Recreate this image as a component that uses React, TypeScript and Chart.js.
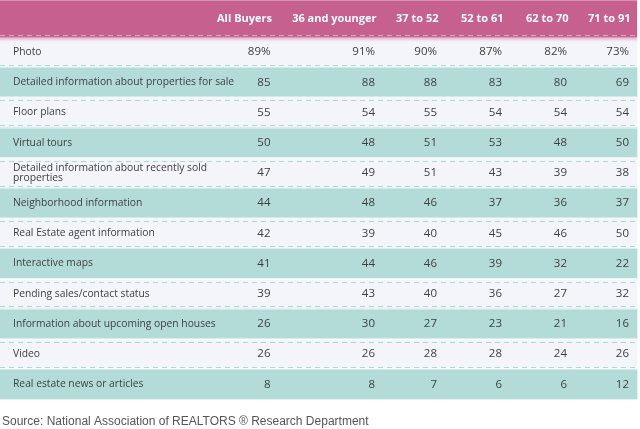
import React, { useEffect, useRef } from 'react';
import { Chart, registerables } from 'chart.js';

Chart.register(...registerables);

// ---- Data ----
const columnHeaders = ['All Buyers', '36 and younger', '37 to 52', '52 to 61', '62 to 70', '71 to 91'];
const rowLabels = [
  'Photo',
  'Detailed information about properties for sale',
  'Floor plans',
  'Virtual tours',
  'Detailed information about recently sold properties',
  'Neighborhood information',
  'Real Estate agent information',
  'Interactive maps',
  'Pending sales/contact status',
  'Information about upcoming open houses',
  'Video',
  'Real estate news or articles',
];
const allBuyers = [89, 85, 55, 50, 47, 44, 42, 41, 39, 26, 26, 8];
const age36AndYounger = [91, 88, 54, 48, 49, 48, 39, 44, 43, 30, 26, 8];
const age37to52 = [90, 88, 55, 51, 51, 46, 40, 46, 40, 27, 28, 7];
const age52to61 = [87, 83, 54, 53, 43, 37, 45, 39, 36, 23, 28, 6];
const age62to70 = [82, 80, 54, 48, 39, 36, 46, 32, 27, 21, 24, 6];
const age71to91 = [73, 69, 54, 50, 38, 37, 50, 22, 32, 16, 26, 12];
const percentRows = [0];
const sourceNote = 'Source: National Association of REALTORS \u00AE Research Department';

// ---- Layout / style (not data) ----
const W = 640;
const H = 429;
const TABLE_RIGHT = 637;
const HEADER_BOTTOM = 37;
const TABLE_BOTTOM = 399.5;
const COL_ANCHOR = [272, 376.5, 438.5, 503.5, 568.5, 630.5];
const LABEL_X = 13;
const LABEL_MAX_W = 232;
const PINK = '#c5608f';
const TEAL = '#b3dcd8';
const LAVENDER = '#f3f5fb';
const TEXT = '#404040';
const FONT = '"Open Sans", "DejaVu Sans", sans-serif';

const series = [allBuyers, age36AndYounger, age37to52, age52to61, age62to70, age71to91];

function wrapLabel(ctx: CanvasRenderingContext2D, text: string, maxW: number): string[] {
  const words = text.split(' ');
  const lines: string[] = [];
  let cur = '';
  for (const w of words) {
    const t = cur ? cur + ' ' + w : w;
    if (ctx.measureText(t).width > maxW && cur) {
      lines.push(cur);
      cur = w;
    } else cur = t;
  }
  if (cur) lines.push(cur);
  return lines;
}

const tablePlugin = {
  id: 'tablePlugin',
  beforeDraw(chart: any) {
    const ctx = chart.ctx as CanvasRenderingContext2D;
    ctx.save();
    ctx.fillStyle = '#ffffff';
    ctx.fillRect(0, 0, chart.width, chart.height);
    ctx.fillStyle = PINK;
    ctx.fillRect(0, 0, TABLE_RIGHT, HEADER_BOTTOM + 1);
    ctx.fillStyle = '#d994b4';
    ctx.fillRect(0, 0, TABLE_RIGHT, 1);
    ctx.restore();
  },
  afterDatasetsDraw(chart: any) {
    const ctx = chart.ctx as CanvasRenderingContext2D;
    const xs = chart.scales.x;
    const ys = chart.scales.y;
    const n = rowLabels.length;
    const rowH = (ys.bottom - ys.top) / n;
    ctx.save();

    for (let i = 0; i < n; i++) {
      const yc = ys.getPixelForValue(i);
      const top = yc - rowH / 2;
      const bottom = yc + rowH / 2;
      if (i > 0) {
        ctx.fillStyle = 'rgba(255,255,255,0.8)';
        ctx.fillRect(0, Math.round(top) - 0.5, TABLE_RIGHT, 1);
      }
      if (i % 2 === 0) {
        ctx.strokeStyle = '#acd9d4';
        ctx.lineWidth = 1;
        ctx.setLineDash([5, 4]);
        ctx.beginPath();
        if (i > 0) {
          const yt = Math.round(top + 3) + 0.5;
          ctx.moveTo(0, yt);
          ctx.lineTo(TABLE_RIGHT, yt);
        }
        const yb = Math.round(bottom - 2.5) + 0.5;
        ctx.moveTo(0, yb);
        ctx.lineTo(TABLE_RIGHT, yb);
        ctx.stroke();
        ctx.setLineDash([]);
      }
    }

    const g = ctx.createLinearGradient(0, HEADER_BOTTOM, 0, HEADER_BOTTOM + 6);
    g.addColorStop(0, 'rgba(214,128,168,0.85)');
    g.addColorStop(1, 'rgba(243,245,251,0)');
    ctx.fillStyle = g;
    ctx.fillRect(0, HEADER_BOTTOM, TABLE_RIGHT, 6);

    ctx.strokeStyle = '#e3a6c2';
    ctx.lineWidth = 1;
    ctx.setLineDash([5, 4]);
    ctx.beginPath();
    ctx.moveTo(0, 35.5);
    ctx.lineTo(TABLE_RIGHT, 35.5);
    ctx.stroke();
    ctx.setLineDash([]);

    ctx.fillStyle = '#ffffff';
    ctx.font = `bold 11px ${FONT}`;
    ctx.textAlign = 'right';
    ctx.textBaseline = 'middle';
    columnHeaders.forEach((h, j) => {
      ctx.fillText(h, xs.getPixelForValue(COL_ANCHOR[j]), 19);
    });

    ctx.fillStyle = TEXT;
    ctx.font = `10.3px ${FONT}`;
    ctx.textAlign = 'left';
    rowLabels.forEach((lab, i) => {
      const yc = ys.getPixelForValue(i);
      const lines = wrapLabel(ctx, lab, LABEL_MAX_W);
      const lh = 9.5;
      lines.forEach((ln, k) => {
        ctx.fillText(ln, xs.getPixelForValue(LABEL_X), yc + (k - (lines.length - 1) / 2) * lh);
      });
    });

    ctx.font = `11.5px ${FONT}`;
    ctx.textAlign = 'right';
    series.forEach((col, j) => {
      col.forEach((v, i) => {
        const txt = percentRows.includes(i) ? `${v}%` : `${v}`;
        ctx.fillText(txt, xs.getPixelForValue(COL_ANCHOR[j] - 1.5), ys.getPixelForValue(i));
      });
    });

    ctx.fillStyle = '#555555';
    ctx.font = '12px "Liberation Sans", Arial, sans-serif';
    ctx.textAlign = 'left';
    ctx.fillText(sourceNote, 2, 422);
    ctx.restore();
  },
};

export default function App() {
  const ref = useRef<HTMLCanvasElement | null>(null);
  useEffect(() => {
    document.body.style.margin = '0';
    if (!ref.current) return;
    const chart = new Chart(ref.current, {
      type: 'bar',
      data: {
        labels: rowLabels,
        datasets: [
          {
            data: rowLabels.map(() => [0, TABLE_RIGHT]) as any,
            backgroundColor: rowLabels.map((_, i) => (i % 2 === 0 ? LAVENDER : TEAL)),
            borderWidth: 0,
            barPercentage: 1,
            categoryPercentage: 1,
          },
        ],
      },
      options: {
        indexAxis: 'y',
        animation: false,
        responsive: true,
        maintainAspectRatio: false,
        layout: { padding: { top: HEADER_BOTTOM, bottom: H - TABLE_BOTTOM, left: 0, right: 0 } },
        scales: {
          x: { type: 'linear', min: 0, max: W, display: false },
          y: { type: 'category', display: false, offset: true },
        },
        plugins: { legend: { display: false }, tooltip: { enabled: false }, title: { display: false } },
        events: [],
      },
      plugins: [tablePlugin],
    });
    return () => chart.destroy();
  }, []);
  return (
    <div style={{ position: 'relative', width: W, height: H }}>
      <canvas ref={ref} />
    </div>
  );
}
